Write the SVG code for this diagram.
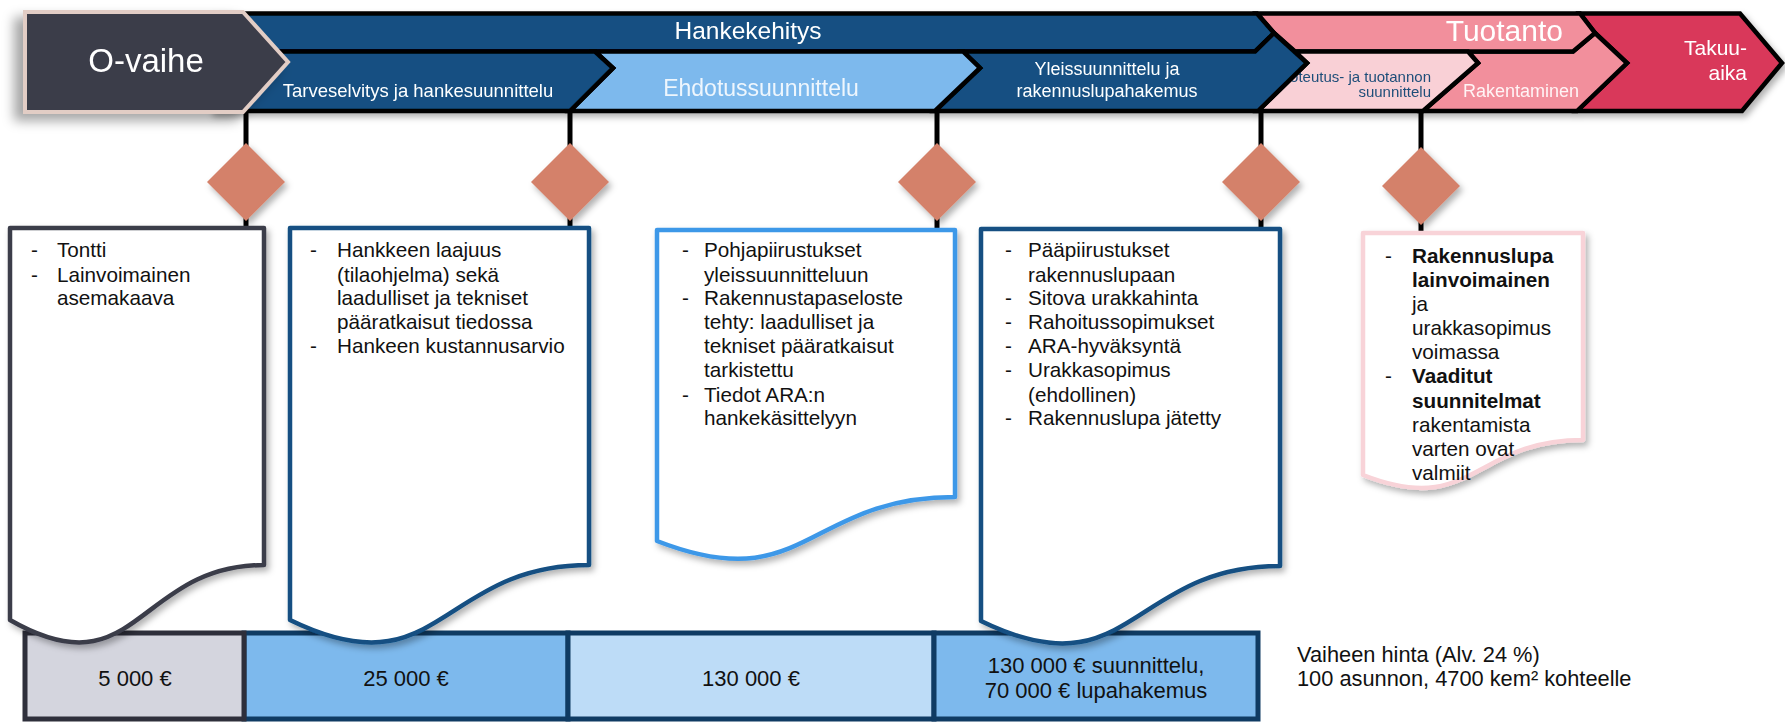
<svg xmlns="http://www.w3.org/2000/svg" width="1785" height="723" viewBox="0 0 1785 723">
<defs>
<filter id="sh" x="-20%" y="-20%" width="140%" height="140%"><feDropShadow dx="3" dy="4" stdDeviation="3" flood-color="#000" flood-opacity="0.3"/></filter>
<filter id="shl" x="-30%" y="-30%" width="160%" height="160%"><feDropShadow dx="-9" dy="7" stdDeviation="6" flood-color="#000" flood-opacity="0.35"/></filter>
<style>
text{font-family:"Liberation Sans",Arial,sans-serif}
.bar{stroke:#000;stroke-width:4.5;stroke-linejoin:miter}
.dk{fill:#124f82}
.lb{fill:#7db9ed}
.pk{fill:#f28f9c}
.lp{fill:#f9d0d6}
.rd{fill:#d9395a}
.doc{fill:#fff;stroke-width:4.5;stroke-linejoin:round;filter:url(#sh)}
.dia{fill:#d4816b;filter:url(#sh)}
.ln{stroke:#000;stroke-width:5}
.li{font-size:20.7px;fill:#111}
.pr{font-size:22px;fill:#111;text-anchor:middle}
.nt{font-size:21.8px;fill:#111}
.sec{stroke:#0f3b63;stroke-width:5}
</style>
</defs>
<rect width="1785" height="723" fill="#fff"/>

<g id="connectors">
<line class="ln" x1="246" y1="111" x2="246" y2="228"/>
<line class="ln" x1="570" y1="111" x2="570" y2="228"/>
<line class="ln" x1="937" y1="111" x2="937" y2="230"/>
<line class="ln" x1="1261" y1="111" x2="1261" y2="229"/>
<line class="ln" x1="1421" y1="111" x2="1421" y2="233"/>
</g>

<g id="phases" filter="url(#sh)">
<g id="takuuaika">
<polygon class="bar rd" points="1580,13.5 1740,13.5 1782,63 1742,111 1577,111 1627,63 1595,33"/>
<text x="1747" y="55" font-size="21" fill="#fff" text-anchor="end">Takuu-</text>
<text x="1747" y="80" font-size="21" fill="#fff" text-anchor="end">aika</text>
</g>
<g id="rakentaminen">
<polygon class="bar pk" points="1468,51.5 1573,51.5 1595,33 1627,63 1577,111 1423,111 1478,63"/>
<text x="1463" y="97" font-size="18" fill="#fff4f5">Rakentaminen</text>
</g>
<g id="tuotanto">
<polygon class="bar pk" points="1257,13.5 1580,13.5 1595,33 1573,51.5 1295,51.5 1274,33"/>
<text x="1563" y="41" font-size="30" fill="#fff" text-anchor="end">Tuotanto</text>
</g>
<g id="toteutus">
<polygon class="bar lp" points="1295,51.5 1468,51.5 1478,63 1423,111 1258,111 1307,63"/>
<text x="1431" y="82" font-size="15" fill="#1f4e79" text-anchor="end">Toteutus- ja tuotannon</text>
<text x="1431" y="97" font-size="15" fill="#1f4e79" text-anchor="end">suunnittelu</text>
</g>
<g id="hankekehitys">
<polygon class="bar dk" points="212,13.5 1257,13.5 1274,33 1255,51.5 212,51.5"/>
<text x="748" y="39" font-size="24.5" fill="#fff" text-anchor="middle">Hankekehitys</text>
</g>
<g id="yleissuunnittelu">
<polygon class="bar dk" points="963,51.5 1255,51.5 1274,33 1307,63 1258,111 935,111 980,68"/>
<text x="1107" y="75" font-size="18" fill="#fff" text-anchor="middle">Yleissuunnittelu ja</text>
<text x="1107" y="97" font-size="18" fill="#fff" text-anchor="middle">rakennuslupahakemus</text>
</g>
<g id="ehdotussuunnittelu">
<polygon class="bar lb" points="595,51.5 963,51.5 980,68 935,111 570,111 613,68"/>
<text x="761" y="96" font-size="23" fill="#eef6fd" text-anchor="middle">Ehdotussuunnittelu</text>
</g>
<g id="tarveselvitys">
<polygon class="bar dk" points="212,51.5 595,51.5 613,68 570,111 212,111"/>
<text x="418" y="97" font-size="18.5" fill="#fff" text-anchor="middle">Tarveselvitys ja hankesuunnittelu</text>
</g>
</g>

<g id="o-vaihe" filter="url(#shl)">
<polygon points="25,12 243,12 288,62 243,112 25,112" fill="#3b3c4a" stroke="#e2cdc5" stroke-width="4" stroke-linejoin="miter"/>
<text x="146" y="72" font-size="33" fill="#fff" text-anchor="middle">O-vaihe</text>
</g>

<g id="milestones">
<polygon id="m1" class="dia" points="246,143 285,182 246,221 207,182"/>
<polygon id="m2" class="dia" points="570,143 609,182 570,221 531,182"/>
<polygon id="m3" class="dia" points="937,143 976,182 937,221 898,182"/>
<polygon id="m4" class="dia" points="1261,143 1300,182 1261,221 1222,182"/>
<polygon id="m5" class="dia" points="1421,147 1460,186 1421,225 1382,186"/>
</g>

<g id="prices">
<rect class="sec" x="244" y="633" width="324" height="86" fill="#7db9ed"/>
<rect class="sec" x="568" y="633" width="366" height="86" fill="#bddcf7"/>
<rect class="sec" x="934" y="633" width="324" height="86" fill="#7db9ed"/>
<rect x="25" y="633" width="219" height="86" fill="#d4d5de" stroke="#2e2f3b" stroke-width="5"/>
<text class="pr" x="135" y="686">5 000 €</text>
<text class="pr" x="406" y="686">25 000 €</text>
<text class="pr" x="751" y="686">130 000 €</text>
<text class="pr" x="1096" y="673">130 000 € suunnittelu,</text>
<text class="pr" x="1096" y="698">70 000 € lupahakemus</text>
</g>

<g id="doc1">
<path class="doc" stroke="#3b3c4a" d="M10,228 H264 V565 C137,565 137,693 10,620 Z"/>
<text class="li" x="31" y="257">-</text><text class="li" x="57" y="257">Tontti</text>
<text class="li" x="31" y="282">-</text><text class="li" x="57" y="282">Lainvoimainen</text>
<text class="li" x="57" y="305">asemakaava</text>
</g>

<g id="doc2">
<path class="doc" stroke="#124f82" d="M290,228 H589 V565 C439.5,565 439.5,693 290,620 Z"/>
<text class="li" x="310" y="257">-</text><text class="li" x="337" y="257">Hankkeen laajuus</text>
<text class="li" x="337" y="282">(tilaohjelma) sekä</text>
<text class="li" x="337" y="305">laadulliset ja tekniset</text>
<text class="li" x="337" y="329">pääratkaisut tiedossa</text>
<text class="li" x="310" y="353">-</text><text class="li" x="337" y="353">Hankeen kustannusarvio</text>
</g>

<g id="doc3">
<path class="doc" stroke="#3d98e8" d="M657,230 H955 V497 C806,497 806,599 657,541 Z"/>
<text class="li" x="682" y="257">-</text><text class="li" x="704" y="257">Pohjapiirustukset</text>
<text class="li" x="704" y="282">yleissuunnitteluun</text>
<text class="li" x="682" y="305">-</text><text class="li" x="704" y="305">Rakennustapaseloste</text>
<text class="li" x="704" y="329">tehty: laadulliset ja</text>
<text class="li" x="704" y="353">tekniset pääratkaisut</text>
<text class="li" x="704" y="377">tarkistettu</text>
<text class="li" x="682" y="402">-</text><text class="li" x="704" y="402">Tiedot ARA:n</text>
<text class="li" x="704" y="425">hankekäsittelyyn</text>
</g>

<g id="doc4">
<path class="doc" stroke="#124f82" d="M981,229 H1280 V566 C1130.5,566 1130.5,694 981,621 Z"/>
<text class="li" x="1005" y="257">-</text><text class="li" x="1028" y="257">Pääpiirustukset</text>
<text class="li" x="1028" y="282">rakennuslupaan</text>
<text class="li" x="1005" y="305">-</text><text class="li" x="1028" y="305">Sitova urakkahinta</text>
<text class="li" x="1005" y="329">-</text><text class="li" x="1028" y="329">Rahoitussopimukset</text>
<text class="li" x="1005" y="353">-</text><text class="li" x="1028" y="353">ARA-hyväksyntä</text>
<text class="li" x="1005" y="377">-</text><text class="li" x="1028" y="377">Urakkasopimus</text>
<text class="li" x="1028" y="402">(ehdollinen)</text>
<text class="li" x="1005" y="425">-</text><text class="li" x="1028" y="425">Rakennuslupa jätetty</text>
</g>

<g id="doc5">
<path class="doc" stroke="#f8d3d8" d="M1363,233 H1583 V440 C1473,440 1473,518 1363,475 Z"/>
<text class="li" x="1385" y="263">-</text><text class="li" x="1412" y="263" font-weight="bold">Rakennuslupa</text>
<text class="li" x="1412" y="287" font-weight="bold">lainvoimainen</text>
<text class="li" x="1412" y="311">ja</text>
<text class="li" x="1412" y="335">urakkasopimus</text>
<text class="li" x="1412" y="359">voimassa</text>
<text class="li" x="1385" y="383">-</text><text class="li" x="1412" y="383" font-weight="bold">Vaaditut</text>
<text class="li" x="1412" y="408" font-weight="bold">suunnitelmat</text>
<text class="li" x="1412" y="432">rakentamista</text>
<text class="li" x="1412" y="456">varten ovat</text>
<text class="li" x="1412" y="480">valmiit</text>
</g>

<g id="note">
<text class="nt" x="1297" y="662">Vaiheen hinta (Alv. 24 %)</text>
<text class="nt" x="1297" y="686">100 asunnon, 4700 kem² kohteelle</text>
</g>
</svg>
